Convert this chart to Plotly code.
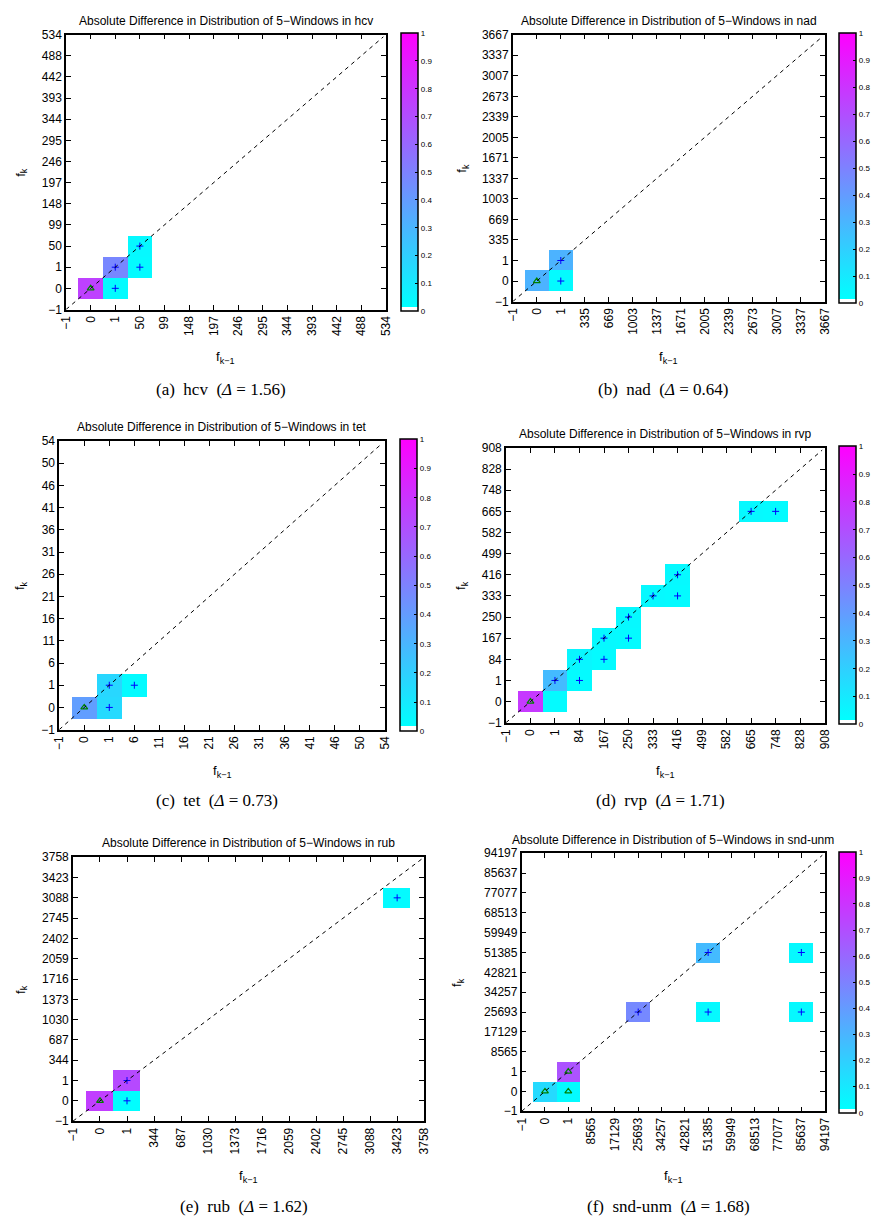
import numpy as np
import plotly.graph_objects as go

W, H = 875, 1229

# ---------------- data ----------------
hcv_ticks = ["−1", "0", "1", "50", "99", "148", "197", "246", "295", "344", "393", "442", "488", "534"]
hcv_x = ["0", "1", "1", "50", "50"]
hcv_y = ["0", "1", "0", "50", "1"]
hcv_v = [0.75, 0.48, 0.03, 0.04, 0.03]
hcv_m = ["tri", "plus", "plus", "plus", "plus"]

nad_ticks = ["−1", "0", "1", "335", "669", "1003", "1337", "1671", "2005", "2339", "2673", "3007", "3337", "3667"]
nad_x = ["0", "1", "1"]
nad_y = ["0", "1", "0"]
nad_v = [0.31, 0.31, 0.03]
nad_m = ["tri", "plus", "plus"]

tet_ticks = ["−1", "0", "1", "6", "11", "16", "21", "26", "31", "36", "41", "46", "50", "54"]
tet_x = ["0", "1", "1", "6"]
tet_y = ["0", "1", "0", "1"]
tet_v = [0.39, 0.17, 0.16, 0.03]
tet_m = ["tri", "plus", "plus", "plus"]

rvp_ticks = ["−1", "0", "1", "84", "167", "250", "333", "416", "499", "582", "665", "748", "828", "908"]
rvp_x = ["0", "1", "1", "84", "84", "167", "167", "250", "250", "333", "416", "416", "665", "748"]
rvp_y = ["0", "0", "1", "1", "84", "84", "167", "167", "250", "333", "333", "416", "665", "665"]
rvp_v = [0.78, 0.03, 0.28, 0.03, 0.05, 0.03, 0.04, 0.03, 0.04, 0.04, 0.03, 0.04, 0.04, 0.03]
rvp_m = ["tri", "none", "plus", "plus", "plus", "plus", "plus", "plus", "plus", "plus", "plus", "plus", "plus", "plus"]

rub_ticks = ["−1", "0", "1", "344", "687", "1030", "1373", "1716", "2059", "2402", "2745", "3088", "3423", "3758"]
rub_x = ["0", "1", "1", "3423"]
rub_y = ["0", "1", "0", "3088"]
rub_v = [0.76, 0.72, 0.02, 0.03]
rub_m = ["tri", "plus", "plus", "plus"]

snd_ticks = ["−1", "0", "1", "8565", "17129", "25693", "34257", "42821", "51385", "59949", "68513", "77077", "85637", "94197"]
snd_x = ["0", "1", "1", "25693", "51385", "51385", "85637", "85637"]
snd_y = ["0", "1", "0", "25693", "51385", "25693", "51385", "25693"]
snd_v = [0.16, 0.68, 0.03, 0.47, 0.28, 0.04, 0.04, 0.04]
snd_m = ["tri", "tri", "tri", "plus", "plus", "plus", "plus", "plus"]

names = ["hcv", "nad", "tet", "rvp", "rub", "snd-unm"]
letters = ["a", "b", "c", "d", "e", "f"]
deltas = ["1.56", "0.64", "0.73", "1.71", "1.62", "1.68"]

# ---------------- layout (pixels) ----------------
boxes = [
    dict(px=(60, 385), py=(28, 306), cb=400, title_y=14, xl_y=355, cap_y=387, yl_x=14),
    dict(px=(514, 831), py=(28, 298), cb=846, title_y=14, xl_y=355, cap_y=387, yl_x=463),
    dict(px=(53, 384), py=(439, 731), cb=399, title_y=425, xl_y=773, cap_y=803, yl_x=14),
    dict(px=(507, 831), py=(446, 724), cb=846, title_y=432, xl_y=773, cap_y=803, yl_x=462),
    dict(px=(67, 424), py=(860, 1127), cb=None, title_y=846, xl_y=1183, cap_y=1213, yl_x=14),
    dict(px=(523, 831), py=(856, 1117), cb=846, title_y=843, xl_y=1183, cap_y=1213, yl_x=458),
]

panels = [
    (hcv_ticks, hcv_x, hcv_y, hcv_v, hcv_m),
    (nad_ticks, nad_x, nad_y, nad_v, nad_m),
    (tet_ticks, tet_x, tet_y, tet_v, tet_m),
    (rvp_ticks, rvp_x, rvp_y, rvp_v, rvp_m),
    (rub_ticks, rub_x, rub_y, rub_v, rub_m),
    (snd_ticks, snd_x, snd_y, snd_v, snd_m),
]

def fx(p):
    return p / W

def fy(p):
    return 1 - p / H

cool = [[0, "rgb(255,255,255)"], [1 / 64, "rgb(255,255,255)"],
        [1 / 64, "rgb(0,255,255)"], [1, "rgb(255,0,255)"]]

SANS = "Liberation Sans, Arial, Helvetica, sans-serif"
SERIF = "Liberation Serif, Times New Roman, serif"

fig = go.Figure()
annotations = []
layout = dict(width=W, height=H, margin=dict(l=0, r=0, t=0, b=0),
              paper_bgcolor="white", plot_bgcolor="white", showlegend=False,
              font=dict(family=SANS, color="black", size=12))

for i, ((ticks, cx, cy, cv, cm), b) in enumerate(zip(panels, boxes)):
    n = len(ticks)
    xa = "x" if i == 0 else f"x{i+1}"
    ya = "y" if i == 0 else f"y{i+1}"
    xkey = "xaxis" if i == 0 else f"xaxis{i+1}"
    ykey = "yaxis" if i == 0 else f"yaxis{i+1}"
    idx = list(range(n))
    xi = [ticks.index(v) for v in cx]
    yi = [ticks.index(v) for v in cy]

    z = np.full((n, n), np.nan)
    for a, c, v in zip(xi, yi, cv):
        z[c, a] = v

    hm = dict(z=z, x=idx, y=idx, zmin=0, zmax=1, colorscale=cool,
              xaxis=xa, yaxis=ya, hoverongaps=False, showscale=b["cb"] is not None)
    if b["cb"] is not None:
        hm["colorbar"] = dict(
            x=fx(b["cb"]), xanchor="left", xref="paper",
            y=fy((b["py"][0] + b["py"][1]) / 2), yanchor="middle", yref="paper",
            len=b["py"][1] - b["py"][0], lenmode="pixels",
            thickness=17, thicknessmode="pixels", xpad=0, ypad=0,
            outlinecolor="black", outlinewidth=1.5,
            tickvals=[k / 10 for k in range(11)],
            ticktext=["0", "0.1", "0.2", "0.3", "0.4", "0.5", "0.6", "0.7", "0.8", "0.9", "1"],
            ticks="inside", ticklen=3, tickcolor="black", tickwidth=1,
            tickfont=dict(size=8, family=SANS, color="black"))
    fig.add_trace(go.Heatmap(**hm))

    px_ = [a for a, m in zip(xi, cm) if m == "plus"]
    py_ = [c for c, m in zip(yi, cm) if m == "plus"]
    tx_ = [a for a, m in zip(xi, cm) if m == "tri"]
    ty_ = [c for c, m in zip(yi, cm) if m == "tri"]
    fig.add_trace(go.Scatter(x=px_, y=py_, mode="markers", xaxis=xa, yaxis=ya,
                             marker=dict(symbol="cross-thin", size=5,
                                         line=dict(color="rgb(0,0,255)", width=1))))
    fig.add_trace(go.Scatter(x=tx_, y=ty_, mode="markers", xaxis=xa, yaxis=ya,
                             marker=dict(symbol="triangle-up-open", size=6,
                                         color="rgb(0,128,0)", line=dict(width=1.2))))
    # identity reference line y = x
    diag = [0, n - 1.1]
    fig.add_trace(go.Scatter(x=diag, y=diag, mode="lines", xaxis=xa, yaxis=ya,
                             line=dict(color="black", width=1, dash="4px,4px")))

    eps = 0.002
    axis_common = dict(range=[-eps, n - 1 + eps], tickvals=idx, ticktext=ticks,
                       showline=True, linecolor="black", linewidth=1.5, mirror="ticks",
                       ticks="inside", ticklen=5, tickcolor="black", tickwidth=1,
                       showgrid=False, zeroline=False,
                       tickfont=dict(size=12, family=SANS, color="black"))
    layout[xkey] = dict(axis_common, domain=[fx(b["px"][0]), fx(b["px"][1])],
                        anchor=ya, tickangle=-90)
    layout[ykey] = dict(axis_common, domain=[fy(b["py"][1]), fy(b["py"][0])],
                        anchor=xa)

    cxm = (b["px"][0] + b["px"][1]) / 2
    cym = (b["py"][0] + b["py"][1]) / 2
    annotations.append(dict(text=f"Absolute Difference in Distribution of 5−Windows in {names[i]}",
                            x=fx(cxm), y=fy(b["title_y"]), xref="paper", yref="paper",
                            showarrow=False, xanchor="center", yanchor="middle",
                            font=dict(size=12, family=SANS, color="black")))
    annotations.append(dict(text="f<sub>k</sub>", x=fx(b["yl_x"]), y=fy(cym),
                            xref="paper", yref="paper", showarrow=False, textangle=-90,
                            xanchor="center", yanchor="middle",
                            font=dict(size=13, family=SANS, color="black")))
    annotations.append(dict(text="f<sub>k−1</sub>", x=fx(cxm), y=fy(b["xl_y"]),
                            xref="paper", yref="paper", showarrow=False,
                            xanchor="center", yanchor="middle",
                            font=dict(size=13, family=SANS, color="black")))
    annotations.append(dict(text=f"({letters[i]})  {names[i]}  (<i>Δ</i> = {deltas[i]})",
                            x=fx(cxm - 5), y=fy(b["cap_y"]), xref="paper", yref="paper",
                            showarrow=False, xanchor="center", yanchor="middle",
                            font=dict(size=17, family=SERIF, color="black")))

layout["annotations"] = annotations
fig.update_layout(**layout)
fig.write_html("out.html")
